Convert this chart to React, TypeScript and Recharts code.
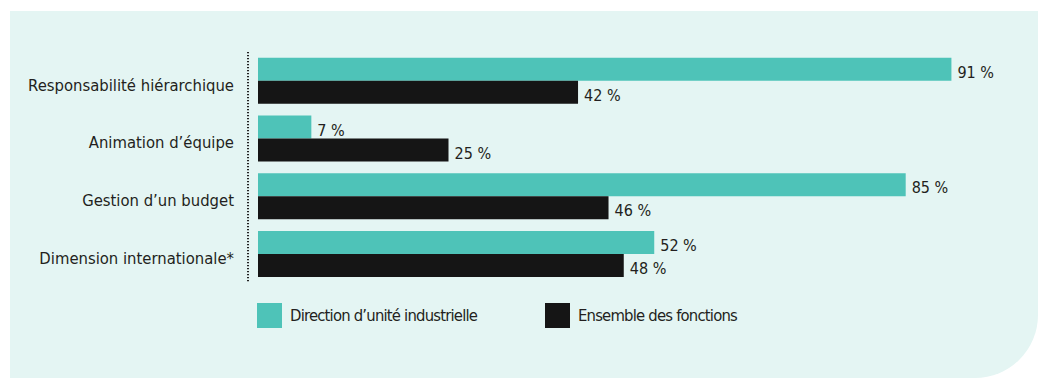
import { Bar, BarChart, LabelList, XAxis, YAxis } from "recharts";

const categories = [
  "Responsabilité hiérarchique",
  "Animation d\u2019équipe",
  "Gestion d\u2019un budget",
  "Dimension internationale*",
];
const directionUnite = [91, 7, 85, 52];
const ensembleFonctions = [42, 25, 46, 48];
const seriesNames = ["Direction d\u2019unité industrielle", "Ensemble des fonctions"];
const seriesColors = ["#4ec3b8", "#151515"];

const data = categories.map((name, i) => ({
  name,
  direction: directionUnite[i],
  ensemble: ensembleFonctions[i],
}));

const FONT = '"Liberation Sans Narrow", "DejaVu Sans Condensed", "Noto Sans", sans-serif';
const TEXT = "#231f20";

const pct = (v: any) => `${v} %`;

export default function App() {
  return (
    <div style={{ position: "absolute", left: 0, top: 0, width: 1038, height: 378, background: "#fff", overflow: "hidden", fontFamily: FONT }}>
      <div
        style={{
          position: "absolute",
          left: 10,
          top: 11,
          width: 1028,
          height: 367,
          background: "#e4f5f3",
          borderBottomRightRadius: 63,
        }}
      />
      <div style={{ position: "absolute", left: 0, top: 0 }}>
        <BarChart
          width={1038}
          height={378}
          data={data}
          layout="vertical"
          margin={{ top: 52, right: 18, bottom: 95, left: 0 }}
          barCategoryGap="10%"
          barGap={0}
        >
          <XAxis type="number" domain={[0, 100]} hide padding={{ left: 10, right: 0 }} />
          <YAxis
            type="category"
            dataKey="name"
            width={248}
            tickLine={false}
            tickSize={0}
            tickMargin={14}
            axisLine={{ stroke: "#222", strokeWidth: 2, strokeDasharray: "1.3 1.7" }}
            tick={{ fill: TEXT, fontSize: 16.5, fontFamily: FONT, dy: 4 }}
          />
          <Bar dataKey="direction" fill={seriesColors[0]} isAnimationActive={false}>
            <LabelList dataKey="direction" position="right" offset={6} dy={3} formatter={pct} fill={TEXT} fontSize={16} fontFamily={FONT} />
          </Bar>
          <Bar dataKey="ensemble" fill={seriesColors[1]} isAnimationActive={false}>
            <LabelList dataKey="ensemble" position="right" offset={6} dy={3} formatter={pct} fill={TEXT} fontSize={16} fontFamily={FONT} />
          </Bar>
        </BarChart>
      </div>
      {seriesNames.map((name, i) => (
        <div
          key={name}
          style={{
            position: "absolute",
            left: i === 0 ? 257 : 545,
            top: 303,
            display: "flex",
            alignItems: "center",
            gap: 8,
            color: TEXT,
            fontSize: 16.5,
            letterSpacing: -0.8,
          }}
        >
          <span style={{ width: 25, height: 25, background: seriesColors[i], display: "inline-block" }} />
          <span>{name}</span>
        </div>
      ))}
    </div>
  );
}
